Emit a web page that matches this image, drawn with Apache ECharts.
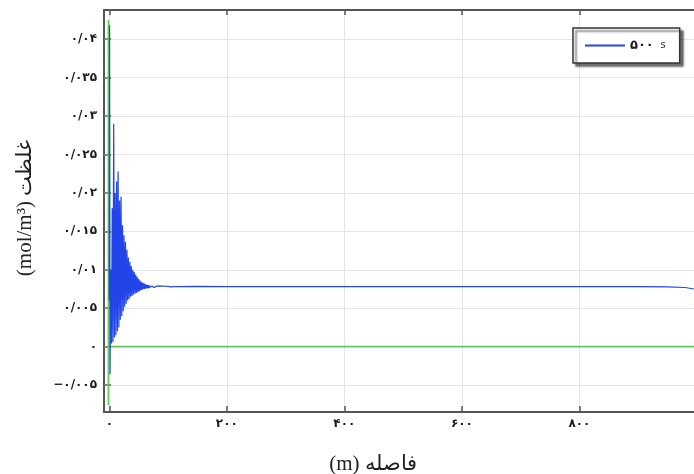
<!DOCTYPE html>
<html>
<head>
<meta charset="utf-8">
<script src="https://cdn.jsdelivr.net/npm/echarts@6/dist/echarts.min.js"></script>
<style>html,body{margin:0;padding:0;background:#fff;}#c{width:694px;height:474px;}</style>
</head>
<body>
<div id="c"></div>
<script>
// ---- data ----
const seriesName = '۵۰۰ s';
const distance = [0, 0.5, 1.3, 2.5, 3.75, 5, 6.25, 7.5, 8.75, 10, 11.25, 12.5, 13.75, 15, 16.25, 17.5, 18.75, 20, 21.25, 22.5, 23.75, 25, 26.25, 27.5, 28.75, 30, 31.25, 32.5, 33.75, 35, 36.25, 37.5, 38.75, 40, 41.25, 42.5, 43.75, 45, 46.25, 47.5, 48.75, 50, 51.25, 52.5, 53.75, 55, 56.25, 57.5, 58.75, 60, 61.25, 62.5, 63.75, 65, 66.25, 67.5, 68.75, 70, 71.25, 72.5, 73.75, 75, 76.25, 77.5, 78.75, 80, 82.5, 85, 87.5, 90, 92.5, 95, 97.5, 100, 105, 110, 115, 120, 150, 200, 250, 300, 400, 500, 600, 700, 800, 900, 950, 980, 995];
const concentration = [0.006, 0.0418, -0.0036, 0.0100, 0.0004, 0.0180, 0.0006, 0.0290, 0.0012, 0.0200, 0.0015, 0.0215, 0.0020, 0.0228, 0.0025, 0.0190, 0.0035, 0.0195, 0.0040, 0.0158, 0.0046, 0.0145, 0.0052, 0.0136, 0.0056, 0.0126, 0.0060, 0.0116, 0.0062, 0.0110, 0.0065, 0.0105, 0.0066, 0.0100, 0.0068, 0.0097, 0.0069, 0.0094, 0.0070, 0.0091, 0.0071, 0.0088, 0.0072, 0.0086, 0.0073, 0.0084, 0.0074, 0.0083, 0.0075, 0.0082, 0.0075, 0.0081, 0.0076, 0.0080, 0.0076, 0.0080, 0.0077, 0.00795, 0.0077, 0.0079, 0.0077, 0.0079, 0.0077, 0.00787, 0.0078, 0.00785, 0.00770, 0.00790, 0.00772, 0.00788, 0.00774, 0.00786, 0.00776, 0.00784, 0.00778, 0.00782, 0.0078, 0.0078, 0.00785, 0.0078, 0.00782, 0.0078, 0.0078, 0.0078, 0.0078, 0.0078, 0.0078, 0.0078, 0.00778, 0.0077, 0.0075];
const initialX = [-1.5, -1.5, -1.5, 995];
const initialY = [0.0425, -0.0076, 0, 0];
const xTickValues = [0, 200, 400, 600, 800];
const xTickLabels = ['۰', '۲۰۰', '۴۰۰', '۶۰۰', '۸۰۰'];
const yTickValues = [-0.005, 0, 0.005, 0.01, 0.015, 0.02, 0.025, 0.03, 0.035, 0.04];
const yTickLabels = ['−۰/۰۰۵', '۰', '۰/۰۰۵', '۰/۰۱', '۰/۰۱۵', '۰/۰۲', '۰/۰۲۵', '۰/۰۳', '۰/۰۳۵', '۰/۰۴'];
const xTitle = '(m) فاصله';
const yTitle = '(mol/m³) غلظت';

// ---- chart ----
const blueData = distance.map((x, i) => [x, concentration[i]]);
const greenData = initialX.map((x, i) => [x, initialY[i]]);
function lookup(vals, labels, v) {
  const i = vals.findIndex(t => Math.abs(t - v) < 1e-9);
  return i >= 0 ? labels[i] : '';
}
const axisColor = '#555';
const labelStyle = { color: '#1a1a1a', fontSize: 12, fontWeight: 'bold', fontFamily: 'DejaVu Sans' };
const chart = echarts.init(document.getElementById('c'), null, { renderer: 'canvas' });
chart.setOption({
  animation: false,
  backgroundColor: '#fff',
  grid: { left: 104, top: 10, right: 0, bottom: 62, containLabel: false },
  legend: {
    data: [{ name: seriesName, icon: 'rect' }],
    left: 573, top: 28,
    padding: [11, 14, 11, 12],
    itemWidth: 40, itemHeight: 2,
    backgroundColor: '#fff',
    borderColor: '#333', borderWidth: 1.5,
    shadowColor: 'rgba(0,0,0,0.55)', shadowBlur: 2, shadowOffsetX: 3, shadowOffsetY: 3,
    formatter: () => '{a|۵۰۰}  {b|s}',
    textStyle: { rich: { a: { fontSize: 13, fontWeight: 'bold', color: '#1a1a1a', fontFamily: 'DejaVu Sans' }, b: { fontSize: 10, color: '#333', fontFamily: 'DejaVu Sans' } } }
  },
  xAxis: [{
    type: 'value', min: -9, max: 995, position: 'bottom',
    axisLine: { show: true, onZero: false, lineStyle: { color: axisColor, width: 2 } },
    axisTick: { show: true, inside: true, length: 6, customValues: xTickValues, lineStyle: { color: axisColor, width: 1.5 } },
    axisLabel: { customValues: xTickValues, margin: 6, formatter: v => lookup(xTickValues, xTickLabels, v), ...labelStyle },
    splitLine: { show: true, lineStyle: { color: '#e4e4e4', width: 1 } }
  }, {
    type: 'value', min: -9, max: 995, position: 'top',
    axisLine: { show: true, onZero: false, lineStyle: { color: axisColor, width: 2 } },
    axisTick: { show: true, inside: true, length: 5, customValues: xTickValues, lineStyle: { color: axisColor, width: 1.5 } },
    axisLabel: { show: false },
    splitLine: { show: false }
  }],
  yAxis: [{
    type: 'value', min: -0.0085, max: 0.0438, position: 'left',
    axisLine: { show: true, onZero: false, lineStyle: { color: axisColor, width: 2 } },
    axisTick: { show: true, inside: true, length: 7, customValues: yTickValues, lineStyle: { color: axisColor, width: 1.5 } },
    axisLabel: { customValues: yTickValues, margin: 7, formatter: v => lookup(yTickValues, yTickLabels, v), ...labelStyle },
    splitLine: { show: true, lineStyle: { color: '#e4e4e4', width: 1 } }
  }, {
    type: 'value', min: -0.0085, max: 0.0438, position: 'right',
    axisLine: { show: false },
    axisTick: { show: true, inside: true, length: 5, customValues: yTickValues, lineStyle: { color: '#888', width: 1.5 } },
    axisLabel: { show: false },
    splitLine: { show: false }
  }],
  series: [{
    name: seriesName, type: 'line', data: blueData, symbol: 'none',
    lineStyle: { color: '#2244e8', width: 1.2 }, itemStyle: { color: '#2244e8' }, z: 3
  }, {
    name: 'initial', type: 'line', data: greenData, symbol: 'none',
    lineStyle: { color: '#62c862', width: 1.6 }, itemStyle: { color: '#62c862' }, z: 2
  }],
  graphic: [{
    type: 'text', x: 373, y: 464,
    style: { text: xTitle, font: '21px "Liberation Serif", serif', fill: '#222', textAlign: 'center', textVerticalAlign: 'middle' }
  }, {
    type: 'text', x: 25, y: 208, rotation: Math.PI / 2,
    style: { text: yTitle, font: '21px "Liberation Serif", serif', fill: '#222', textAlign: 'center', textVerticalAlign: 'middle' }
  }]
});
</script>
</body>
</html>
